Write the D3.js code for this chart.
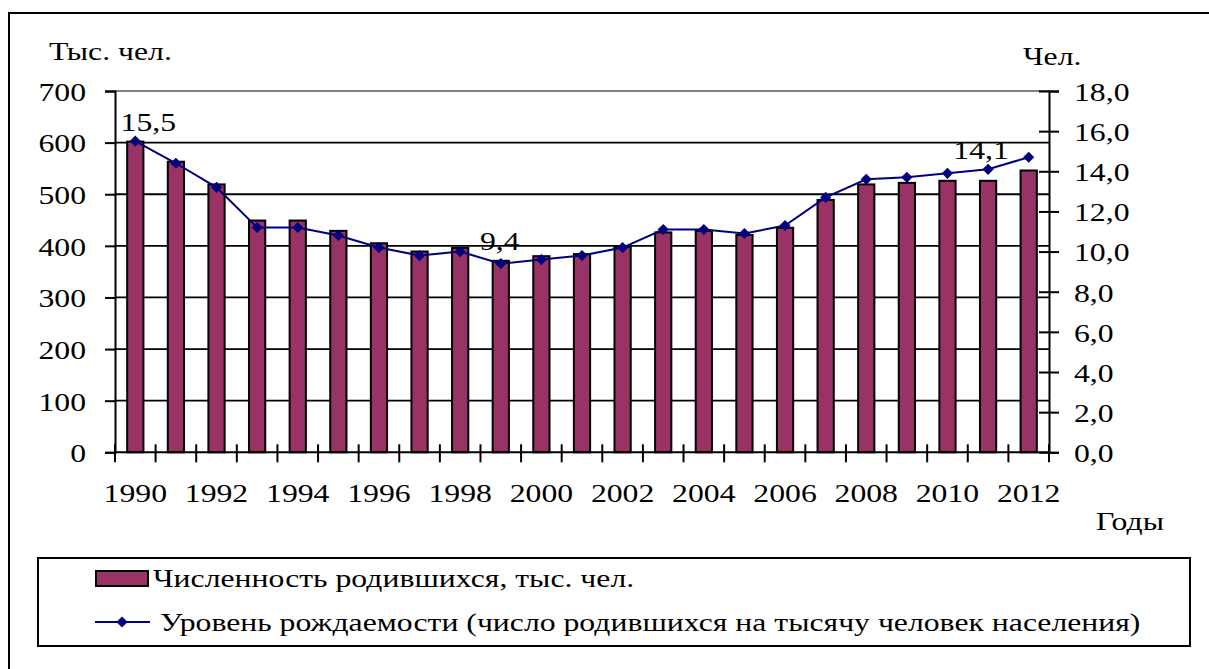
<!DOCTYPE html>
<html><head><meta charset="utf-8">
<script src="https://cdn.jsdelivr.net/npm/d3@7/dist/d3.min.js"></script>
<style>
html,body{margin:0;padding:0;background:#fff;}
svg text{font-family:"Liberation Serif","Times New Roman","DejaVu Serif",serif !important;fill:#000;}
</style></head>
<body>
<svg id="c" width="1209" height="669"></svg>
<script>
const years = [1990,1991,1992,1993,1994,1995,1996,1997,1998,1999,2000,2001,2002,2003,2004,2005,2006,2007,2008,2009,2010,2011,2012];
const births = [602,563,519,449,449,429,405,389,396,371,380,384,398,426,429,421,435,489,519,522,526,526,546];
const birthRate = [15.5,14.4,13.2,11.2,11.2,10.8,10.2,9.8,10.0,9.4,9.6,9.8,10.2,11.1,11.1,10.9,11.3,12.7,13.6,13.7,13.9,14.1,14.7];
const leftTicks = [0,100,200,300,400,500,600,700];
const rightTicks = [0,2,4,6,8,10,12,14,16,18];
const xLabelYears = [1990,1992,1994,1996,1998,2000,2002,2004,2006,2008,2010,2012];
const labeledPoints = [{year:1990, dx:13, dy:-10},{year:1999, dx:-1, dy:-14},{year:2011, dx:-7, dy:-10}];
const seriesNames = ["Численность родившихся, тыс. чел.","Уровень рождаемости (число родившихся на тысячу человек населения)"];

const FONT = '"Liberation Serif","Times New Roman","DejaVu Serif",serif';
const FS = 26;
const SX = 1.22; // horizontal stretch of the original picture's text

const svg = d3.select("#c");
const L=115, R=1049, T=91, B=452.3;
const fmt = v => v.toFixed(1).replace(".", ",");

function stretch(sel){
  sel.each(function(){
    const t = d3.select(this);
    const x = +t.attr("x") || 0;
    t.attr("x", x/SX).attr("transform", `scale(${SX},1)`)
     .attr("font-size", FS).style("font-family", FONT);
  });
}

// outer frame
svg.append("rect").attr("x",9).attr("y",13).attr("width",1260).attr("height",700)
  .attr("fill","none").attr("stroke","#000").attr("stroke-width",2);

const x = d3.scaleBand().domain(years).range([L,R]).paddingInner(0.6).paddingOuter(0.3);
const yL = d3.scaleLinear().domain([0,700]).range([B,T]);
const yR = d3.scaleLinear().domain([0,18]).range([B,T]);
const step = x.step();
const cx = d => x(d) + x.bandwidth()/2;

// gridlines
svg.append("g").selectAll("line").data(leftTicks.filter(d=>d>0)).join("line")
  .attr("x1",L).attr("x2",R).attr("y1",d=>yL(d)).attr("y2",d=>yL(d))
  .attr("stroke",d=>d===700?"#808080":"#000").attr("stroke-width",1.8);

// left axis
const gl = svg.append("g").attr("transform",`translate(${L},0)`)
  .call(d3.axisLeft(yL).tickValues(leftTicks).tickSize(10).tickPadding(19).tickFormat(d3.format("d")));
gl.attr("font-family", FONT);
gl.select(".domain").attr("stroke","#000").attr("stroke-width",2);
gl.selectAll(".tick line").attr("stroke","#000").attr("stroke-width",2);
gl.selectAll(".tick text").attr("dy","0.36em").call(stretch);

// right axis
const gr = svg.append("g").attr("transform",`translate(${R},0)`)
  .call(d3.axisRight(yR).tickValues(rightTicks).tickSize(10).tickPadding(15).tickFormat(fmt));
gr.attr("font-family", FONT);
gr.select(".domain").attr("stroke","#000").attr("stroke-width",2);
gr.selectAll(".tick line").attr("stroke","#000").attr("stroke-width",2).attr("x1",-10);
gr.selectAll(".tick text").attr("dy","0.36em").call(stretch);

// bars
svg.append("g").selectAll("rect").data(years).join("rect")
  .attr("x",d=>x(d)).attr("width",x.bandwidth())
  .attr("y",(d,i)=>yL(births[i])).attr("height",(d,i)=>B-yL(births[i]))
  .attr("fill","#993366").attr("stroke","#000").attr("stroke-width",2);

// x axis
svg.append("line").attr("x1",L).attr("x2",R).attr("y1",B).attr("y2",B).attr("stroke","#000").attr("stroke-width",2);
const bounds = d3.range(years.length+1).map(i=>L+i*step);
svg.append("g").selectAll("line").data(bounds).join("line")
  .attr("x1",d=>d).attr("x2",d=>d).attr("y1",B-8).attr("y2",B+10)
  .attr("stroke","#000").attr("stroke-width",2);
svg.append("g").selectAll("text").data(xLabelYears).join("text")
  .attr("x",d=>cx(d)).attr("y",B+50).attr("text-anchor","middle").text(d=>d).call(stretch);

// line
const line = d3.line().x((d,i)=>cx(years[i])).y(d=>yR(d));
svg.append("path").datum(birthRate).attr("d",line).attr("fill","none").attr("stroke","#000080").attr("stroke-width",2);
const diamond = d3.symbol().type(d3.symbolDiamond2).size(80);
svg.append("g").selectAll("path").data(birthRate).join("path")
  .attr("d",diamond).attr("transform",(d,i)=>`translate(${cx(years[i])},${yR(d)})`)
  .attr("fill","#000080");

// data labels
svg.append("g").selectAll("text").data(labeledPoints).join("text")
  .attr("x",d=>cx(d.year)+d.dx)
  .attr("y",d=>yR(birthRate[years.indexOf(d.year)])+d.dy)
  .attr("text-anchor","middle")
  .text(d=>fmt(birthRate[years.indexOf(d.year)])).call(stretch);

// axis titles
svg.append("text").attr("x",49).attr("y",60).text("Тыс. чел.").call(stretch);
svg.append("text").attr("x",1023).attr("y",65).text("Чел.").call(stretch);
svg.append("text").attr("x",1096).attr("y",530).text("Годы").call(stretch);

// legend
svg.append("rect").attr("x",38).attr("y",558).attr("width",1152).attr("height",88)
  .attr("fill","#fff").attr("stroke","#000").attr("stroke-width",2);
svg.append("rect").attr("x",96).attr("y",571).attr("width",52).attr("height",15)
  .attr("fill","#993366").attr("stroke","#000").attr("stroke-width",2);
svg.append("text").attr("x",153).attr("y",587).text(seriesNames[0]).call(stretch);
svg.append("line").attr("x1",95).attr("x2",150).attr("y1",622).attr("y2",622).attr("stroke","#000080").attr("stroke-width",2);
svg.append("path").attr("d",diamond).attr("transform","translate(122,622)").attr("fill","#000080");
svg.append("text").attr("x",160).attr("y",631).text(seriesNames[1]).call(stretch);
</script>
</body></html>
